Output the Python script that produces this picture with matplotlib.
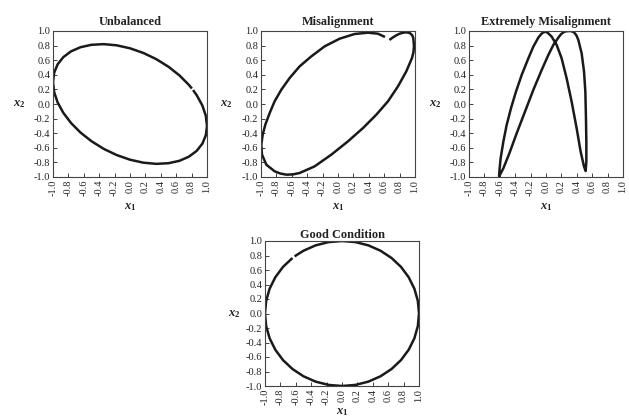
import matplotlib
matplotlib.use('Agg')
import matplotlib.pyplot as plt
from matplotlib.ticker import MultipleLocator, FormatStrFormatter

plt.rcParams['font.family'] = ['Liberation Serif', 'DejaVu Serif']
plt.rcParams['axes.unicode_minus'] = False
plt.rcParams['mathtext.fontset'] = 'custom'
plt.rcParams['mathtext.it'] = 'Liberation Serif:italic:bold'
plt.rcParams['mathtext.rm'] = 'Liberation Serif:bold'

# orbit traces (x1, x2)
unbal_x1 = [0.819, 0.866, 0.940, 0.985, 1.000, 0.985, 0.940, 0.866, 0.766, 0.643,
            0.500, 0.342, 0.174, 0.000, -0.174, -0.342, -0.500, -0.643, -0.766, -0.866,
            -0.940, -0.985, -1.000, -0.985, -0.940, -0.866, -0.766, -0.643, -0.500, -0.342,
            -0.174, 0.000, 0.174, 0.342, 0.500, 0.643, 0.766, 0.804]
unbal_x2 = [0.191, 0.121, -0.021, -0.163, -0.301, -0.428, -0.543, -0.642, -0.721, -0.778,
            -0.811, -0.820, -0.804, -0.763, -0.699, -0.614, -0.510, -0.391, -0.260, -0.121,
            0.021, 0.163, 0.301, 0.428, 0.543, 0.642, 0.721, 0.778, 0.811, 0.820,
            0.804, 0.763, 0.699, 0.614, 0.510, 0.391, 0.260, 0.212]

misal_x1 = [0.667, 0.710, 0.758, 0.800, 0.844, 0.890, 0.931, 0.962, 0.978, 0.987,
            0.980, 0.961, 0.887, 0.779, 0.649, 0.498, 0.325, 0.130, -0.087, -0.303,
            -0.498, -0.590, -0.671, -0.750, -0.823, -0.931, -0.987, -0.996, -0.978, -0.944,
            -0.887, -0.823, -0.736, -0.628, -0.498, -0.346, -0.173, 0.022, 0.216, 0.390,
            0.519, 0.610]
misal_x2 = [0.877, 0.910, 0.941, 0.963, 0.977, 0.982, 0.973, 0.945, 0.904, 0.790,
            0.710, 0.630, 0.447, 0.242, 0.037, -0.146, -0.329, -0.511, -0.694, -0.854,
            -0.945, -0.965, -0.968, -0.952, -0.922, -0.831, -0.694, -0.557, -0.420, -0.283,
            -0.123, 0.037, 0.196, 0.356, 0.516, 0.653, 0.790, 0.895, 0.959, 0.977,
            0.963, 0.918]

ext_x1 = [-0.610, -0.602, -0.589, -0.554, -0.511, -0.455, -0.390, -0.316, -0.229, -0.165,
          -0.100, -0.065, -0.035, 0.000, 0.030, 0.074, 0.139, 0.203, 0.268, 0.333,
          0.398, 0.450, 0.494, 0.515, 0.524, 0.524, 0.519, 0.511, 0.494, 0.463,
          0.420, 0.395, 0.364, 0.330, 0.290, 0.255, 0.225, 0.190, 0.160, 0.095,
          0.030, -0.056, -0.165, -0.273, -0.381, -0.476, -0.554, -0.610]
ext_x2 = [-0.995, -0.881, -0.744, -0.516, -0.288, -0.059, 0.169, 0.397, 0.626, 0.785,
          0.909, 0.955, 0.982, 0.990, 0.968, 0.922, 0.808, 0.626, 0.352, 0.032,
          -0.333, -0.653, -0.858, -0.918, -0.790, -0.516, -0.196, 0.169, 0.443, 0.694,
          0.877, 0.940, 0.982, 0.998, 1.000, 0.995, 0.982, 0.950, 0.909, 0.808,
          0.671, 0.466, 0.192, -0.105, -0.402, -0.676, -0.881, -0.995]

good_x1 = [-0.643, -0.766, -0.866, -0.940, -0.985, -1.000, -0.985, -0.940, -0.866, -0.766,
           -0.643, -0.500, -0.342, -0.174, 0.000, 0.174, 0.342, 0.500, 0.643, 0.766,
           0.866, 0.940, 0.985, 1.000, 0.985, 0.940, 0.866, 0.766, 0.643, 0.500,
           0.342, 0.174, 0.000, -0.174, -0.342, -0.500, -0.616]
good_x2 = [0.766, 0.643, 0.500, 0.342, 0.174, 0.000, -0.174, -0.342, -0.500, -0.643,
           -0.766, -0.866, -0.940, -0.985, -1.000, -0.985, -0.940, -0.866, -0.766, -0.643,
           -0.500, -0.342, -0.174, 0.000, 0.174, 0.342, 0.500, 0.643, 0.766, 0.866,
           0.940, 0.985, 1.000, 0.985, 0.940, 0.866, 0.788]

titles = ['Unbalanced', 'Misalignment', 'Extremely Misalignment', 'Good Condition']
traces = [(unbal_x1, unbal_x2), (misal_x1, misal_x2), (ext_x1, ext_x2), (good_x1, good_x2)]

fig = plt.figure(figsize=(6.29, 4.17), dpi=100)
W, H = 629, 417
# axes boxes in pixels: left, top, width, height
boxes = [(53, 31, 154, 146), (261, 31, 154, 146), (469, 31, 154, 146), (265, 241, 154, 145)]
ylab_x = [-0.22, -0.227, -0.22, -0.2]
xlab_y = [-0.205, -0.205, -0.205, -0.18]
title_pad = [4, 4, 4, 2]

for i, (l, t, w, h) in enumerate(boxes):
    ax = fig.add_axes([l / W, 1 - (t + h) / H, w / W, h / H])
    xs, ys = traces[i]
    ax.plot(xs, ys, color='#1a1a1a', lw=1.8, solid_joinstyle='round', solid_capstyle='butt')
    ax.set_xlim(-1, 1)
    ax.set_ylim(-1, 1)
    ax.xaxis.set_major_locator(MultipleLocator(0.2))
    ax.yaxis.set_major_locator(MultipleLocator(0.2))
    ax.xaxis.set_major_formatter(FormatStrFormatter('%.1f'))
    ax.yaxis.set_major_formatter(FormatStrFormatter('%.1f'))
    ax.tick_params(direction='in', length=3, width=0.6, labelsize=7.5,
                   colors='#222222', pad=2)
    ax.tick_params(axis='x', labelrotation=90)
    for s in ax.spines.values():
        s.set_linewidth(0.8)
        s.set_color('#444444')
    ax.set_title(titles[i], fontsize=8.8, fontweight='bold', pad=title_pad[i], color='#222222')
    ax.set_xlabel(r'$x_1$', fontsize=9, color='#222222')
    ax.set_ylabel(r'$x_2$', fontsize=9, rotation=0, color='#222222')
    ax.xaxis.set_label_coords(0.5, xlab_y[i])
    ax.xaxis.label.set_va('center')
    ax.yaxis.set_label_coords(ylab_x[i], 0.5)
    ax.yaxis.label.set_va('center')
    ax.yaxis.label.set_ha('center')

fig.savefig('out.png', dpi=100)
